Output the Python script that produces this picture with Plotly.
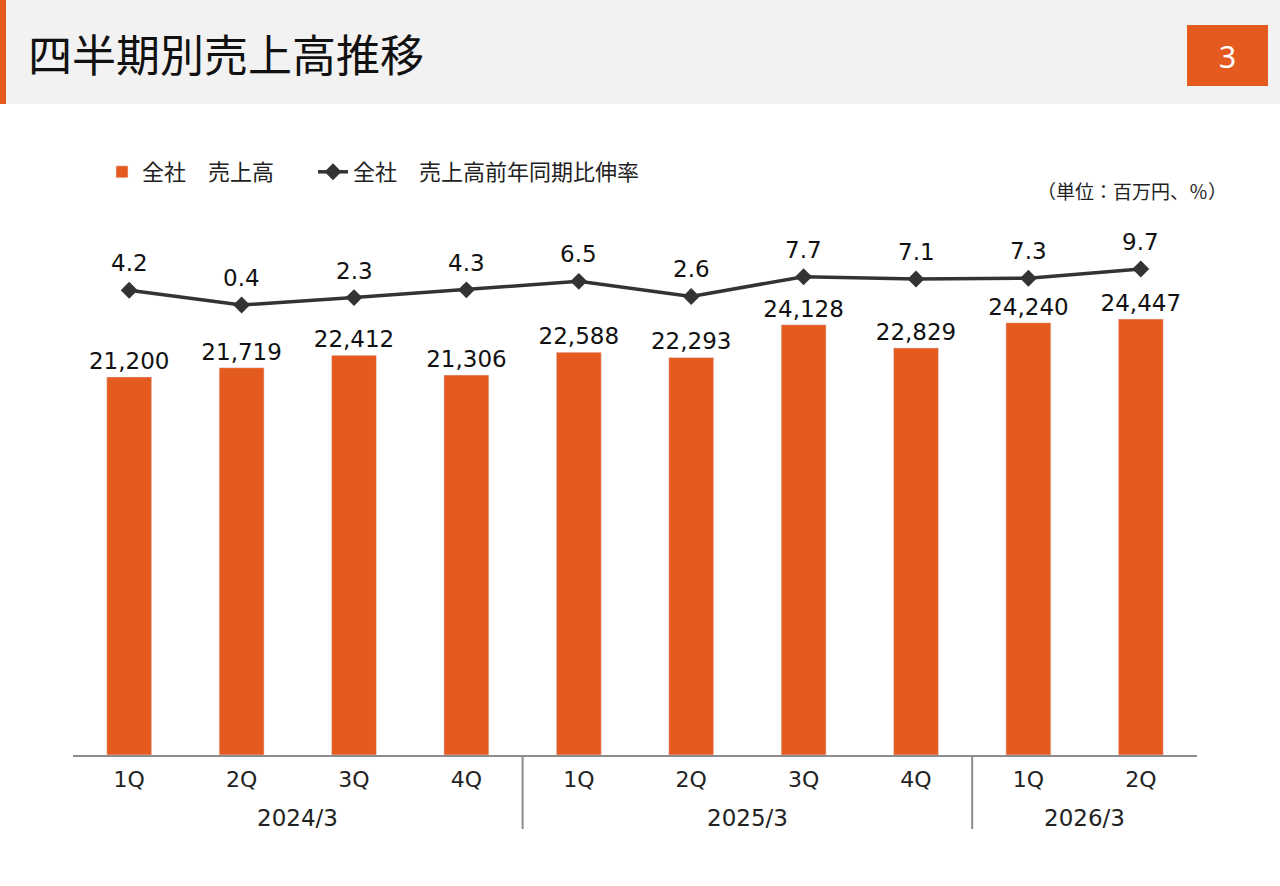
import plotly.graph_objects as go

# ---- data ----
quarters = ["1Q", "2Q", "3Q", "4Q", "1Q", "2Q", "3Q", "4Q", "1Q", "2Q"]
fiscal_years = ["2024/3", "2024/3", "2024/3", "2024/3",
                "2025/3", "2025/3", "2025/3", "2025/3",
                "2026/3", "2026/3"]
sales = [21200, 21719, 22412, 21306, 22588, 22293, 24128, 22829, 24240, 24447]
yoy_growth = [4.2, 0.4, 2.3, 4.3, 6.5, 2.6, 7.7, 7.1, 7.3, 9.7]

bar_name = "全社\u3000売上高"
line_name = "全社\u3000売上高前年同期比伸率"
title_text = "四半期別売上高推移"
page_no = "3"
unit_text = "（単位：百万円、％）"

ORANGE = "#E55A1F"
DARK = "#333333"
W, H = 1280, 886
ML, MR, MT, MB = 73, 83, 220, 131
PW, PH = W - ML - MR, H - MT - MB

NUM_FONT = "DejaVu Sans, Noto Sans CJK JP"
JP_FONT = "Noto Sans CJK JP"

def px_x(x):
    return (x - ML) / PW

def px_y(y):
    return (H - MB - y) / PH

xs = list(range(len(sales)))

fig = go.Figure()
fig.add_trace(go.Bar(
    x=xs, y=sales, name=bar_name, marker_color=ORANGE, width=0.4,
    text=[f"{v:,}" for v in sales], textposition="outside", constraintext="none",
    textfont=dict(family=NUM_FONT, size=23, color="#111111"),
    cliponaxis=False, legend="legend",
))
fig.add_trace(go.Scatter(
    x=xs, y=yoy_growth, name=line_name, yaxis="y2", mode="lines+markers",
    line=dict(color=DARK, width=3.5),
    marker=dict(symbol="diamond", size=13, color=DARK),
    legend="legend2",
))

annotations = []
for i, v in zip(xs, yoy_growth):
    annotations.append(dict(x=i, y=v, xref="x", yref="y2", text=f"{v}",
                            showarrow=False, yshift=27,
                            font=dict(family=NUM_FONT, size=23, color="#111111")))

# fiscal year group labels and dividers
groups = []
for i, fy in enumerate(fiscal_years):
    if not groups or groups[-1][0] != fy:
        groups.append([fy, i, i])
    else:
        groups[-1][2] = i
shapes = []
for gi, (fy, s, e) in enumerate(groups):
    annotations.append(dict(x=(s + e) / 2, y=px_y(818), xref="x", yref="paper",
                            text=fy, showarrow=False, yanchor="middle",
                            font=dict(family=NUM_FONT, size=23, color="#222222")))
    if gi > 0:
        shapes.append(dict(type="line", xref="x", yref="paper",
                           x0=s - 0.5, x1=s - 0.5, y0=0, y1=px_y(829),
                           line=dict(color="#8c8c8c", width=2)))

# header
shapes.append(dict(type="rect", xref="paper", yref="paper", layer="below",
                   x0=px_x(0), x1=px_x(W), y0=px_y(0), y1=px_y(104),
                   fillcolor="#f2f2f2", line=dict(width=0)))
shapes.append(dict(type="rect", xref="paper", yref="paper",
                   x0=px_x(0), x1=px_x(6), y0=px_y(0), y1=px_y(104),
                   fillcolor=ORANGE, line=dict(width=0)))
shapes.append(dict(type="rect", xref="paper", yref="paper",
                   x0=px_x(1187), x1=px_x(1268), y0=px_y(25), y1=px_y(86),
                   fillcolor=ORANGE, line=dict(width=0)))
annotations.append(dict(x=px_x(26), y=px_y(53), xref="paper", yref="paper",
                        text=title_text, showarrow=False, xanchor="left", yanchor="middle",
                        font=dict(family=JP_FONT, size=44, color="#111111")))
annotations.append(dict(x=px_x(1227.5), y=px_y(57), xref="paper", yref="paper",
                        text=page_no, showarrow=False, xanchor="center", yanchor="middle",
                        font=dict(family="Noto Sans", size=30, color="white")))
annotations.append(dict(x=px_x(1229), y=px_y(190), xref="paper", yref="paper",
                        text=unit_text, showarrow=False, xanchor="right", yanchor="middle",
                        font=dict(family=JP_FONT, size=19, color="#222222")))

legend_common = dict(orientation="h", yanchor="middle", xanchor="left",
                     font=dict(family=JP_FONT, size=22, color="#222222"),
                     bgcolor="rgba(0,0,0,0)", itemwidth=30)

fig.update_layout(
    width=W, height=H,
    margin=dict(l=ML, r=MR, t=MT, b=MB),
    plot_bgcolor="white", paper_bgcolor="white",
    showlegend=True,
    legend=dict(x=px_x(102), y=px_y(172), **legend_common),
    legend2=dict(x=px_x(313), y=px_y(172), **legend_common),
    xaxis=dict(tickmode="array", tickvals=xs, ticktext=quarters,
               range=[-0.5, len(xs) - 0.5], showgrid=False, zeroline=False,
               showline=True, linecolor="#8c8c8c", linewidth=2,
               ticks="", ticklabelstandoff=4,
               tickfont=dict(family=NUM_FONT, size=22, color="#222222")),
    yaxis=dict(range=[0, 30000], visible=False, showgrid=False),
    yaxis2=dict(range=[-115.9, 22.35], overlaying="y", visible=False, showgrid=False),
    annotations=annotations,
    shapes=shapes,
    bargap=0.6,
)

fig.write_html("out.html", config={"displayModeBar": False},
               post_script="document.body.style.margin='0';")
